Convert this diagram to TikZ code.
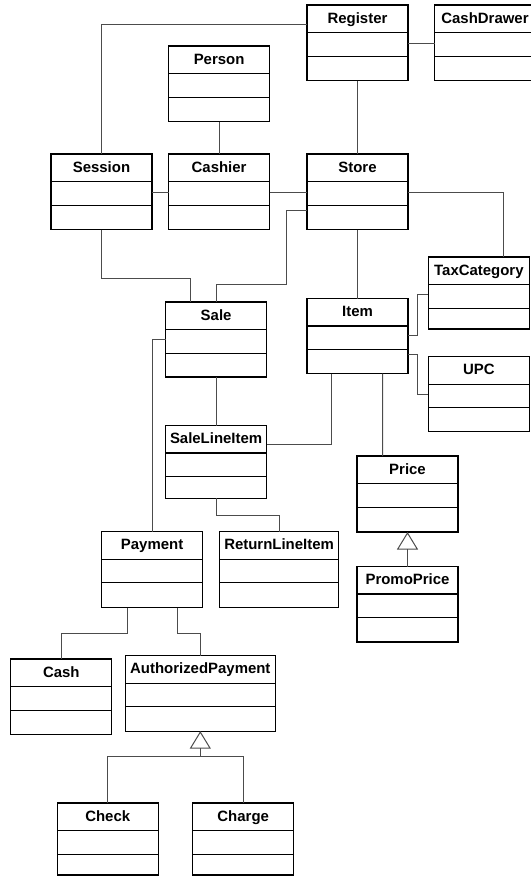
\documentclass[tikz,border=0pt]{standalone}
\usepackage{fontspec}
\setmainfont{Liberation Sans}
\usetikzlibrary{arrows.meta}

\tikzset{
  classbox/.style={draw=black, line width=1.1bp, inner sep=0pt, outer sep=0pt, anchor=north west},
  classname/.style={anchor=base, inner sep=0pt, font=\fontsize{15}{17}\selectfont\bfseries},
  compline/.style={draw=black, line width=1.1bp},
  assoc/.style={draw=black!70, line width=1bp},
  generalize/.style={assoc, -{Triangle[open, width=21bp, length=17.5bp, line width=1bp]}}
}

% UML class: name, left, top, width, height, title
\newcommand\umlclass[6]{%
  \node[classbox, minimum width=#4bp, minimum height=#5bp] (#1) at (#2,#3) {};
  \node[classname] (#1-name) at ([yshift=-18bp]#1.north) {#6};
  \draw[compline] ([yshift=-27.5bp]#1.north west) -- ([yshift=-27.5bp]#1.north east);
  \draw[compline] ([yshift=-51.2bp]#1.north west) -- ([yshift=-51.2bp]#1.north east);
}

\begin{document}
\begin{tikzpicture}[x=1bp, y=-1bp]
  \useasboundingbox (0,0) rectangle (531,876);

  % classes
  \umlclass{Register}{307}{5}{101}{75.5}{Register}
  \umlclass{CashDrawer}{434.5}{5}{101}{75.5}{CashDrawer}
  \umlclass{Person}{168.6}{46}{101}{75.5}{Person}
  \umlclass{Session}{51}{154}{101}{75.5}{Session}
  \umlclass{Cashier}{168.6}{154}{101}{75.5}{Cashier}
  \umlclass{Store}{307}{154}{101}{75.5}{Store}
  \umlclass{TaxCategory}{428.4}{257}{101}{72}{TaxCategory}
  \umlclass{Sale}{165.6}{302}{101}{75}{Sale}
  \umlclass{Item}{307}{298.5}{101}{75}{Item}
  \umlclass{UPC}{428.4}{356.7}{101}{75}{UPC}
  \umlclass{SaleLineItem}{165.6}{425.5}{101}{72.6}{SaleLineItem}
  \umlclass{Price}{357}{456}{101}{76}{Price}
  \umlclass{PromoPrice}{357}{566.5}{101}{75.5}{PromoPrice}
  \umlclass{Payment}{101.6}{531.6}{101}{76}{Payment}
  \umlclass{ReturnLineItem}{219.8}{531.6}{118.5}{76}{ReturnLineItem}
  \umlclass{Cash}{10.8}{659}{101}{75.5}{Cash}
  \umlclass{AuthorizedPayment}{125.3}{655.6}{150}{75.5}{AuthorizedPayment}
  \umlclass{Check}{57.2}{803}{101}{72}{Check}
  \umlclass{Charge}{192.7}{803}{101}{72}{Charge}

  % associations
  \draw[assoc] ([yshift=-19bp]Register.north west) -| (Session.north);
  \draw[assoc] ([yshift=-38bp]Register.north east) -- ([yshift=-38bp]CashDrawer.north west);
  \draw[assoc] (Person.south) -- (Cashier.north);
  \draw[assoc] (Register.south) -- (Store.north);
  \draw[assoc] ([yshift=-38bp]Session.north east) -- ([yshift=-38bp]Cashier.north west);
  \draw[assoc] ([yshift=-38bp]Cashier.north east) -- ([yshift=-38bp]Store.north west);
  \draw[assoc] ([yshift=-38bp]Store.north east) -| ([xshift=25bp]TaxCategory.north);
  \draw[assoc] ([yshift=-56.4bp]Store.north west) -- ++(-20.3bp,0) |- ([yshift=18bp]Sale.north) -- (Sale.north);
  \draw[assoc] (Session.south) |- ([xshift=-25.4bp,yshift=23.2bp]Sale.north) -- ([xshift=-25.4bp]Sale.north);
  \draw[assoc] (Store.south) -- (Item.north);
  \draw[assoc] ([yshift=-37.2bp]Item.north east) -- ++(9.5bp,0) |- ([yshift=-37.1bp]TaxCategory.north west);
  \draw[assoc] ([yshift=-55.8bp]Item.north east) -- ++(9.5bp,0) |- ([yshift=-37.3bp]UPC.north west);
  \draw[assoc] (Sale.south) -- (SaleLineItem.north);
  \draw[assoc] ([yshift=-37.1bp]Sale.north west) -| (Payment.north);
  \draw[assoc] ([xshift=-25.6bp]Item.south) |- ([yshift=-18.6bp]SaleLineItem.north east);
  \draw[assoc] ([xshift=25bp]Item.south) -- ([xshift=-25bp]Price.north);
  \draw[assoc] (SaleLineItem.south) -- ++(0,-17.4bp) -| (ReturnLineItem.north);
  \draw[assoc] ([xshift=-25bp]Payment.south) -- ++(0,-25.4bp) -| (Cash.north);
  \draw[assoc] ([xshift=25bp]Payment.south) -- ++(0,-25.4bp) -| (AuthorizedPayment.north);

  % generalizations
  \draw[generalize] (PromoPrice.north) -- (Price.south);
  \coordinate (apjoin) at ([yshift=-25.4bp]AuthorizedPayment.south);
  \draw[generalize] (apjoin) -- (AuthorizedPayment.south);
  \draw[assoc] (Check.north) |- (apjoin) -| (Charge.north);
\end{tikzpicture}
\end{document}
